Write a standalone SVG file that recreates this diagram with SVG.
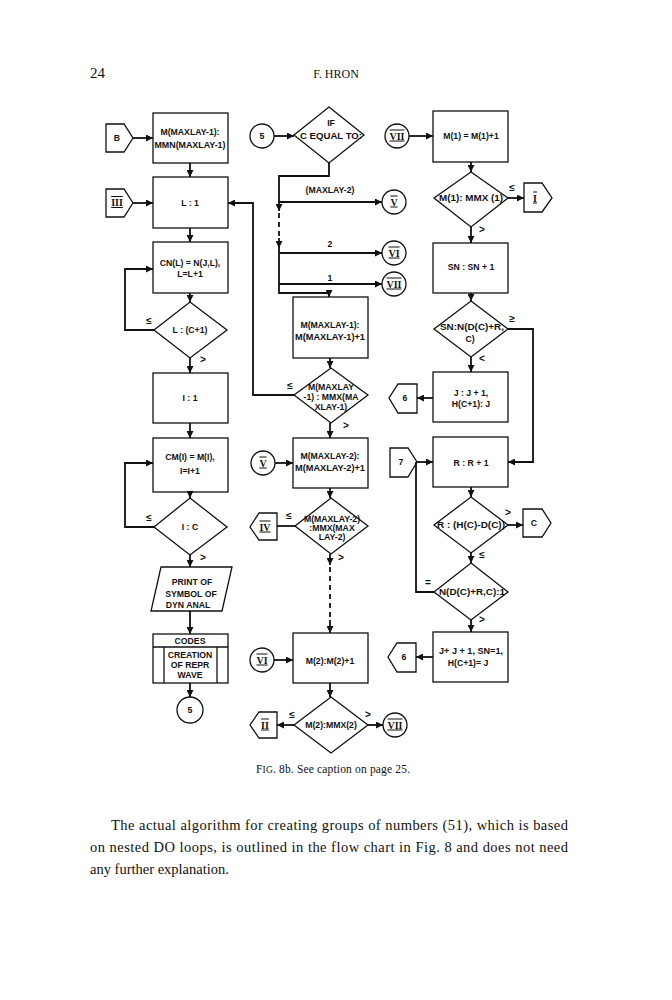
<svg xmlns="http://www.w3.org/2000/svg" width="672" height="1000" viewBox="0 0 672 1000">
<defs>
<marker id="a" viewBox="0 0 10 10" refX="10" refY="5" markerWidth="8" markerHeight="7" markerUnits="userSpaceOnUse" orient="auto"><path d="M0,0 L10,5 L0,10 z" fill="#111"/></marker>
<style>
.n{fill:none;stroke:#111;stroke-width:1.3}
.c{fill:none;stroke:#111;stroke-width:1.8}
.d{fill:none;stroke:#111;stroke-width:1.8;stroke-dasharray:5 4}
.t{font-family:"Liberation Sans",Arial,sans-serif;font-size:8.7px;font-weight:bold;fill:#111;text-anchor:middle}
.r{font-family:"Liberation Serif","Times New Roman",serif;font-size:10px;font-weight:bold;fill:#111;text-anchor:middle;text-decoration:underline overline}
.s{font-family:"Liberation Sans",Arial,sans-serif;font-size:10px;font-weight:bold;fill:#111;text-anchor:middle}
.b{font-family:"Liberation Serif","Times New Roman",serif;fill:#111}
</style>
</defs>
<rect width="672" height="1000" fill="#fff"/>
<text class="b" x="90" y="78" font-size="15">24</text>
<text class="b" x="336" y="78" font-size="12" text-anchor="middle">F. HRON</text>

<g id="connectors">
<path class="c" d="M133,138 H153" marker-end="url(#a)"/>
<path class="c" d="M190,163 V177" marker-end="url(#a)"/>
<path class="c" d="M133,203 H153" marker-end="url(#a)"/>
<path class="c" d="M190,228 V242" marker-end="url(#a)"/>
<path class="c" d="M190,293 V302" marker-end="url(#a)"/>
<path class="c" d="M154,330 H125 V269 H153" marker-end="url(#a)"/>
<path class="c" d="M190,358 V373" marker-end="url(#a)"/>
<path class="c" d="M190,423 V438" marker-end="url(#a)"/>
<path class="c" d="M190,492 V498" marker-end="url(#a)"/>
<path class="c" d="M154,527 H125 V463 H153" marker-end="url(#a)"/>
<path class="c" d="M190,555 V567" marker-end="url(#a)"/>
<path class="c" d="M190,611 V634" marker-end="url(#a)"/>
<path class="c" d="M190,683 V697" marker-end="url(#a)"/>

<path class="c" d="M274,136 H294" marker-end="url(#a)"/>
<path class="c" d="M329,163 V176 H279 V211" marker-end="url(#a)"/>
<path class="d" d="M279,213 V238"/>
<path class="c" d="M279,238 V248" marker-end="url(#a)"/>
<path class="c" d="M279,248 V293 H329 V297" marker-end="url(#a)"/>
<path class="c" d="M279,202 H382" marker-end="url(#a)"/>
<path class="c" d="M279,253 H382" marker-end="url(#a)"/>
<path class="c" d="M279,284 H382" marker-end="url(#a)"/>
<path class="c" d="M330,358 V368" marker-end="url(#a)"/>
<path class="c" d="M294,395 H253 V203 H228" marker-end="url(#a)"/>
<path class="c" d="M330,423 V438" marker-end="url(#a)"/>
<path class="c" d="M275,463 H293" marker-end="url(#a)"/>
<path class="c" d="M330,488 V498" marker-end="url(#a)"/>
<path class="c" d="M295,526 H277"/>
<path class="c" d="M330,554 V565" marker-end="url(#a)"/>
<path class="d" d="M330,567 V620"/>
<path class="c" d="M330,620 V633" marker-end="url(#a)"/>
<path class="c" d="M274,660 H293" marker-end="url(#a)"/>
<path class="c" d="M330,683 V697" marker-end="url(#a)"/>
<path class="c" d="M294,725 H277" marker-end="url(#a)"/>
<path class="c" d="M368,725 H383" marker-end="url(#a)"/>

<path class="c" d="M409,136 H433" marker-end="url(#a)"/>
<path class="c" d="M471,162 V172" marker-end="url(#a)"/>
<path class="c" d="M508,198 H524" marker-end="url(#a)"/>
<path class="c" d="M471,227 V243" marker-end="url(#a)"/>
<path class="c" d="M471,293 V301" marker-end="url(#a)"/>
<path class="c" d="M508,329 H533 V462 H508" marker-end="url(#a)"/>
<path class="c" d="M471,357 V372" marker-end="url(#a)"/>
<path class="c" d="M433,398 H417" marker-end="url(#a)"/>
<path class="c" d="M417,462 H433" marker-end="url(#a)"/>
<path class="c" d="M471,487 V497" marker-end="url(#a)"/>
<path class="c" d="M508,525 H523" marker-end="url(#a)"/>
<path class="c" d="M471,553 V563" marker-end="url(#a)"/>
<path class="c" d="M434,592 H416 V462"/>
<path class="c" d="M471,620 V632" marker-end="url(#a)"/>
<path class="c" d="M433,657 H416" marker-end="url(#a)"/>

<text class="s" x="149" y="324">≤</text>
<text class="s" x="203" y="363">&gt;</text>
<text class="s" x="149" y="521">≤</text>
<text class="s" x="203" y="561">&gt;</text>
<text class="t" x="330" y="193">(MAXLAY-2)</text>
<text class="t" x="330" y="247">2</text>
<text class="t" x="330" y="281">1</text>
<text class="s" x="290" y="389">≤</text>
<text class="s" x="346" y="429">&gt;</text>
<text class="s" x="289" y="519">≤</text>
<text class="s" x="341" y="561">&gt;</text>
<text class="s" x="292" y="718">≤</text>
<text class="s" x="368" y="718">&gt;</text>
<text class="s" x="512" y="191">≤</text>
<text class="s" x="482" y="233">&gt;</text>
<text class="s" x="512" y="322">≥</text>
<text class="s" x="482" y="362">&lt;</text>
<text class="s" x="508" y="516">&gt;</text>
<text class="s" x="482" y="558">≤</text>
<text class="s" x="428" y="586">=</text>
<text class="s" x="482" y="623">&gt;</text>
</g>

<g id="pB"><polygon class="n" points="106,124 124,124 133,138 124,152 106,152"/><text class="t" x="117" y="141">B</text></g>
<g id="box1"><rect class="n" x="153" y="113" width="75" height="50"/><text class="t" x="190" y="135">M(MAXLAY-1):</text><text class="t" x="190" y="148" textLength="71" lengthAdjust="spacingAndGlyphs">MMN(MAXLAY-1)</text></g>
<g id="pIII"><polygon class="n" points="106,189 124,189 133,203 124,217 106,217"/><text class="r" x="117" y="206">III</text></g>
<g id="box2"><rect class="n" x="153" y="177" width="75" height="51"/><text class="t" x="190" y="206">L : 1</text></g>
<g id="box3"><rect class="n" x="153" y="242" width="75" height="51"/><text class="t" x="190" y="266">CN(L) = N(J,L),</text><text class="t" x="190" y="277">L=L+1</text></g>
<g id="dia1"><polygon class="n" points="190,302 227,330 190,358 154,330"/><text class="t" x="190" y="333">L : (C+1)</text></g>
<g id="box4"><rect class="n" x="153" y="373" width="75" height="50"/><text class="t" x="190" y="401">I : 1</text></g>
<g id="box5"><rect class="n" x="153" y="438" width="75" height="54"/><text class="t" x="190" y="460">CM(I) = M(I),</text><text class="t" x="190" y="474">I=I+1</text></g>
<g id="dia2"><polygon class="n" points="190,498 227,527 190,555 154,527"/><text class="t" x="190" y="530">I : C</text></g>
<g id="print"><polygon class="n" points="161,567 232,567 222,611 151,611"/><text class="t" x="192" y="585">PRINT OF</text><text class="t" x="191" y="597">SYMBOL OF</text><text class="t" x="188" y="608">DYN  ANAL</text></g>
<g id="codes"><rect class="n" x="153" y="634" width="75" height="49"/><line class="n" x1="153" y1="647" x2="228" y2="647"/><line class="n" x1="164" y1="647" x2="164" y2="683"/><line class="n" x1="217" y1="647" x2="217" y2="683"/><text class="t" x="190" y="644">CODES</text><text class="t" x="190" y="658">CREATION</text><text class="t" x="190" y="668">OF REPR</text><text class="t" x="190" y="678">WAVE</text></g>
<g id="c5b"><circle class="n" cx="190" cy="710" r="13"/><text class="t" x="190" y="713">5</text></g>

<g id="c5a"><circle class="n" cx="262" cy="136" r="12"/><text class="t" x="262" y="139">5</text></g>
<g id="diaIf"><polygon class="n" points="329,107 364,135 329,163 294,135"/><text class="t" x="331" y="126">IF</text><text class="t" x="331" y="139" textLength="62" lengthAdjust="spacingAndGlyphs">C EQUAL TO:</text></g>
<g id="cV1"><circle class="n" cx="394" cy="202" r="12"/><text class="r" x="394" y="205.5">V</text></g>
<g id="cVI1"><circle class="n" cx="394" cy="253" r="12"/><text class="r" x="394" y="256.5">VI</text></g>
<g id="cVII1"><circle class="n" cx="394" cy="284" r="12"/><text class="r" x="394" y="287.5">VII</text></g>
<g id="box6"><rect class="n" x="293" y="297" width="75" height="61"/><text class="t" x="330" y="328">M(MAXLAY-1):</text><text class="t" x="330" y="340" textLength="70" lengthAdjust="spacingAndGlyphs">M(MAXLAY-1)+1</text></g>
<g id="dia3"><polygon class="n" points="331,368 368,395 331,423 294,395"/><text class="t" x="331" y="390">M(MAXLAY</text><text class="t" x="331" y="400">-1) : MMX(MA</text><text class="t" x="331" y="410">XLAY-1)</text></g>
<g id="cV2"><circle class="n" cx="263" cy="463" r="12"/><text class="r" x="263" y="466.5">V</text></g>
<g id="box7"><rect class="n" x="293" y="438" width="75" height="50"/><text class="t" x="330" y="459">M(MAXLAY-2):</text><text class="t" x="330" y="471" textLength="70" lengthAdjust="spacingAndGlyphs">M(MAXLAY-2)+1</text></g>
<g id="pIV"><polygon class="n" points="277,513 259,513 250,527 259,540 277,540"/><text class="r" x="265" y="530.5">IV</text></g>
<g id="dia4"><polygon class="n" points="331,498 368,526 331,554 295,526"/><text class="t" x="332" y="522">M(MAXLAY-2)</text><text class="t" x="332" y="531">:MMX(MAX</text><text class="t" x="332" y="540">LAY-2)</text></g>
<g id="cVI2"><circle class="n" cx="262" cy="660" r="12"/><text class="r" x="262" y="663.5">VI</text></g>
<g id="box8"><rect class="n" x="293" y="633" width="75" height="50"/><text class="t" x="330" y="664">M(2):M(2)+1</text></g>
<g id="pII"><polygon class="n" points="277,712 259,712 250,725 259,738 277,738"/><text class="r" x="265" y="728.5">II</text></g>
<g id="dia5"><polygon class="n" points="331,697 368,725 331,753 294,725"/><text class="t" x="331" y="728">M(2):MMX(2)</text></g>
<g id="cVII3"><circle class="n" cx="395" cy="725" r="12"/><text class="r" x="395" y="728.5">VII</text></g>

<g id="cVII2"><circle class="n" cx="397" cy="136" r="12"/><text class="r" x="397" y="139.5">VII</text></g>
<g id="box9"><rect class="n" x="433" y="111" width="75" height="51"/><text class="t" x="471" y="139">M(1) = M(1)+1</text></g>
<g id="dia6"><polygon class="n" points="471,172 508,198 471,227 434,198"/><text class="t" x="471" y="201" textLength="64" lengthAdjust="spacingAndGlyphs">M(1): MMX  (1)</text></g>
<g id="pI"><polygon class="n" points="524,183 542,183 552,198 542,212 524,212"/><text class="r" x="535" y="201.5">I</text></g>
<g id="box10"><rect class="n" x="433" y="243" width="75" height="50"/><text class="t" x="471" y="270">SN : SN + 1</text></g>
<g id="dia7"><polygon class="n" points="471,301 508,329 471,357 434,329"/><text class="t" x="472" y="330" textLength="64" lengthAdjust="spacingAndGlyphs">SN:N(D(C)+R,</text><text class="t" x="470" y="342">C)</text></g>
<g id="box11"><rect class="n" x="433" y="372" width="75" height="50"/><text class="t" x="471" y="396">J : J + 1,</text><text class="t" x="471" y="407">H(C+1): J</text></g>
<g id="p6a"><polygon class="n" points="417,384 398,384 389,398 398,413 417,413"/><text class="t" x="405" y="401">6</text></g>
<g id="p7"><polygon class="n" points="390,448 408,448 417,462 408,477 390,477"/><text class="t" x="401" y="465">7</text></g>
<g id="box12"><rect class="n" x="433" y="437" width="75" height="50"/><text class="t" x="471" y="466">R : R + 1</text></g>
<g id="dia8"><polygon class="n" points="471,497 508,525 471,553 434,525"/><text class="t" x="471" y="528" textLength="68" lengthAdjust="spacingAndGlyphs">R : (H(C)-D(C))</text></g>
<g id="pC"><polygon class="n" points="523,509 542,509 551,523 542,537 523,537"/><text class="t" x="534" y="526">C</text></g>
<g id="dia9"><polygon class="n" points="471,563 508,592 471,620 434,592"/><text class="t" x="472" y="595" textLength="66" lengthAdjust="spacingAndGlyphs">N(D(C)+R,C):1</text></g>
<g id="box13"><rect class="n" x="433" y="632" width="75" height="50"/><text class="t" x="471" y="654" textLength="64" lengthAdjust="spacingAndGlyphs">J+ J + 1, SN=1,</text><text class="t" x="468" y="666">H(C+1)= J</text></g>
<g id="p6b"><polygon class="n" points="416,643 397,643 388,657 397,672 416,672"/><text class="t" x="404" y="660">6</text></g>

<text class="b" x="256" y="773" font-size="11.5" textLength="154" lengthAdjust="spacing">F<tspan font-size="9.5">IG</tspan>. 8b.   See caption on page 25.</text>
<text class="b" x="111" y="830" font-size="14.5" textLength="457" lengthAdjust="spacing">The actual algorithm for creating groups of numbers (51), which is based</text>
<text class="b" x="90" y="852" font-size="14.5" textLength="478" lengthAdjust="spacing">on nested DO loops, is outlined in the flow chart in Fig. 8 and does not need</text>
<text class="b" x="90" y="874" font-size="14.5">any further explanation.</text>
</svg>
